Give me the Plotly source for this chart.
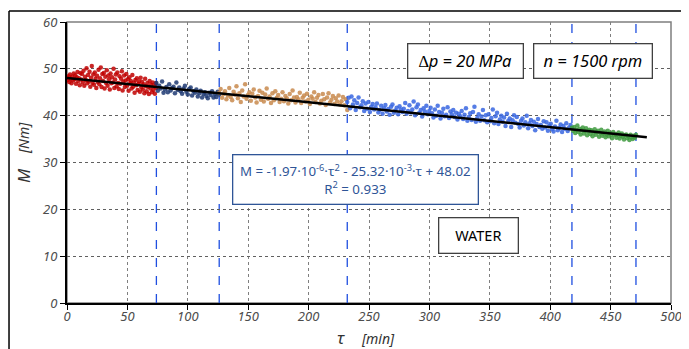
import numpy as np
import plotly.graph_objects as go

# ---------------- data ----------------
seg_bounds = [0, 74, 126, 232, 418, 471]          # tau [min] segment limits
seg_colors = ["#C00000", "#1F3A73", "#C88A4E", "#3866E0", "#3E9A3E"]

red_m = [48.1, 47.6, 48.4, 47.2, 48.8, 47.9, 46.9, 48.3, 47.5, 49.0, 47.8, 48.6, 46.8, 48.2, 49.3, 47.4, 48.0, 46.5, 49.1, 47.7,
         48.9, 47.1, 49.6, 46.4, 48.3, 47.6, 50.1, 46.9, 48.7, 47.3, 49.4, 46.2, 48.1, 50.6, 47.0, 48.8, 46.6, 49.2, 47.9, 45.9,
         48.5, 47.2, 49.8, 46.7, 48.0, 50.3, 46.1, 48.9, 47.4, 49.1, 45.8, 48.3, 47.0, 49.7, 46.4, 48.6, 47.8, 45.6, 49.0, 46.9,
         48.2, 47.1, 50.0, 45.9, 47.7, 48.8, 46.3, 49.2, 47.0, 45.7, 48.4, 46.8, 47.9, 49.5, 45.4, 47.3, 48.6, 46.1, 47.5, 48.9,
         46.4, 47.8, 45.3, 48.2, 46.9, 47.4, 45.8, 48.7, 46.2, 47.1, 44.9, 47.6, 46.5, 48.0, 45.5, 46.8, 47.3, 45.1, 48.1, 46.0,
         47.2, 45.6, 46.7, 44.8, 47.9, 46.3, 45.2, 47.0, 46.1, 44.6, 47.4, 45.8, 46.6, 45.0, 47.1, 45.5, 46.3, 44.7, 46.9, 45.9]
navy_m = [47.0, 45.3, 46.4, 45.8, 47.3, 44.9, 45.6, 46.1, 45.0, 46.7, 45.4, 45.9, 46.2, 44.8, 47.1, 45.5, 46.0, 45.2, 44.7, 45.8,
          46.4, 45.1, 44.5, 45.7, 46.0, 44.3, 45.2, 44.9, 45.6, 44.1, 44.8, 45.3, 43.9, 44.6, 45.0, 44.2, 43.7, 44.9, 44.4, 45.2,
          43.9, 44.6, 44.0, 45.1, 44.5]
brown_m = [44.9, 45.7, 43.8, 44.6, 45.2, 43.5, 44.3, 45.9, 44.0, 43.3, 45.1, 44.5, 46.3, 43.7, 44.8, 42.9, 45.4, 44.1, 46.7, 43.6,
           44.4, 45.0, 43.2, 44.7, 45.6, 43.9, 42.8, 44.2, 45.3, 43.4, 44.9, 43.0, 44.5, 45.8, 43.6, 44.1, 42.7, 44.8, 43.3, 45.2,
           43.8, 44.4, 42.9, 43.6, 45.0, 43.1, 44.2, 43.7, 42.6, 44.6, 43.3, 45.4, 43.9, 42.8, 44.0, 43.5, 44.9, 42.7, 43.8, 44.3,
           43.0, 44.7, 43.4, 42.5, 44.1, 43.6, 45.0, 42.9, 43.8, 44.4, 42.6, 43.2, 44.6, 43.5, 42.3, 43.9, 44.8, 42.8, 43.4, 44.2,
           42.5, 43.7, 43.0, 44.3, 42.4, 43.1, 44.0, 42.2, 43.5, 41.2]
blue_m = [42.9, 43.8, 41.6, 44.1, 42.4, 43.3, 41.2, 42.7, 43.9, 41.8, 42.2, 43.1, 41.0, 42.6, 41.5, 42.9, 40.8, 41.9, 42.5, 41.3,
          41.8, 42.6, 40.7, 41.2, 42.1, 40.4, 41.6, 42.3, 40.9, 41.4, 40.2, 41.9, 42.4, 40.6, 41.1, 41.7, 40.3, 42.0, 41.3, 40.8,
          41.5, 42.7, 40.4, 41.0, 42.2, 40.7, 41.3, 43.0, 40.1, 41.8, 42.4, 40.6, 41.2, 39.8, 41.6, 40.9, 42.1, 40.3, 41.0, 41.7,
          40.5, 39.6, 41.3, 40.0, 42.1, 40.8, 39.4, 40.6, 41.5, 39.9, 40.2, 41.8, 39.5, 40.9, 40.3, 41.2, 39.7, 40.6, 39.2, 40.4,
          39.9, 41.0, 39.3, 40.2, 41.6, 38.9, 39.7, 40.5, 39.1, 40.8, 41.9, 38.7, 39.5, 40.3, 38.9, 39.8, 41.2, 39.0, 40.1, 38.6,
          40.3, 38.8, 39.5, 41.3, 38.4, 39.9, 40.6, 38.2, 39.2, 40.0, 38.7, 39.6, 37.8, 40.4, 38.9, 39.4, 37.6, 39.0, 40.1, 38.5,
          39.7, 38.2, 37.5, 38.9, 39.4, 37.9, 38.6, 40.0, 37.3, 38.4, 39.1, 37.8, 38.7, 36.9, 38.2, 39.3, 37.6, 38.0, 37.2, 38.8,
          37.5, 38.6, 36.8, 37.9, 38.3, 37.1, 36.6, 37.7, 38.9, 36.9, 37.4, 38.1, 36.5, 37.8, 37.2, 38.4, 36.7, 37.5, 38.0, 37.3]
green_m = [37.4, 36.8, 37.6, 36.3, 37.0, 37.9, 36.5, 37.2, 36.0, 36.9, 37.5, 36.2, 36.7, 37.3, 35.8, 36.6, 37.0, 36.1, 36.9, 35.6,
           36.4, 37.1, 35.9, 36.5, 36.8, 35.5, 36.3, 37.0, 35.7, 36.2, 36.6, 35.4, 36.0, 36.8, 35.6, 36.3, 35.9, 35.2, 36.5, 35.8,
           36.1, 35.3, 35.9, 36.4, 35.1, 35.7, 36.2, 35.5, 34.9, 35.8, 36.0, 35.2, 35.6, 34.8, 35.9, 35.4, 35.0, 35.7, 35.3, 35.9]
segments_m = [red_m, navy_m, brown_m, blue_m, green_m]

# trend line coefficients (as printed on the chart): M = a*t^2 + b*t + c
fit_a, fit_b, fit_c = -1.97e-6, -25.32e-3, 48.02
fit_range = [0, 480]

divider_x = [74, 126, 232, 418, 471]
x_ticks = [0, 50, 100, 150, 200, 250, 300, 350, 400, 450, 500]
y_ticks = [0, 10, 20, 30, 40, 50, 60]

# ---------------- figure ----------------
fig = go.Figure()

for (t0, t1), ys, col in zip(zip(seg_bounds[:-1], seg_bounds[1:]), segments_m, seg_colors):
    xs = np.linspace(t0, t1, len(ys))
    fig.add_trace(go.Scatter(x=xs, y=ys, mode="markers",
                             marker=dict(size=4.5, color=col, opacity=0.85, line=dict(width=0)),
                             showlegend=False, hoverinfo="skip"))

tf = np.linspace(fit_range[0], fit_range[1], 200)
fig.add_trace(go.Scatter(x=tf, y=fit_a * tf**2 + fit_b * tf + fit_c, mode="lines",
                         line=dict(color="black", width=2.5), showlegend=False, hoverinfo="skip"))

shapes = []
for xv in divider_x:
    shapes.append(dict(type="line", xref="x", yref="y", x0=xv, x1=xv, y0=0, y1=60,
                       line=dict(color="#1F4FE0", width=1.3, dash="dash"), layer="below"))
shapes.append(dict(type="rect", xref="paper", yref="paper", x0=0, x1=1, y0=0, y1=1,
                   line=dict(color="#7F7F7F", width=1.5), layer="below"))
shapes.append(dict(type="line", xref="paper", yref="paper", x0=-0.096, x1=1.05, y0=1.039, y1=1.039,
                   line=dict(color="black", width=1.5)))
shapes.append(dict(type="line", xref="paper", yref="paper", x0=-0.096, x1=-0.096, y0=1.039, y1=-0.2,
                   line=dict(color="black", width=1.5)))

tickfont = dict(family="Noto Sans", size=13, color="#4D4D4D", style="italic")
box = dict(bgcolor="white", borderpad=0, borderwidth=1.3, showarrow=False, xref="x", yref="y")
title_font_big = dict(family="Noto Sans", size=17, color="#333333", style="italic")
title_font_small = dict(family="Noto Sans", size=14, color="#333333", style="italic")
ctr = dict(xanchor="center", yanchor="middle", showarrow=False, xref="paper", yref="paper")
annotations = [
    dict(x=329.6, y=51.7, text="∆p = 20 MPa", width=114, height=33, bordercolor="#404040",
         font=dict(family="Noto Sans", size=16.5, color="black", style="italic"), **box),
    dict(x=435.1, y=51.7, text="n = 1500 rpm", width=117, height=33, bordercolor="#404040",
         font=dict(family="Noto Sans", size=16.5, color="black", style="italic"), **box),
    dict(x=238.5, y=26.4,
         text="M = -1.97·10<sup>-6</sup>·τ<sup>2</sup> - 25.32·10<sup>-3</sup>·τ + 48.02<br>R<sup>2</sup> = 0.933",
         width=244, height=48, bordercolor="#2F5597",
         font=dict(family="Noto Sans", size=13.3, color="#2F5597"), **box),
    dict(x=340.3, y=14.46, text="WATER", width=78, height=34, bordercolor="#404040",
         font=dict(family="Noto Sans", size=14.5, color="black"), **box),
    # y-axis title: "M" and "[Nm]"
    dict(x=(23 - 67) / 604, y=(303 - 176) / 281, textangle=-90, text="M", font=title_font_big, **ctr),
    dict(x=(23 - 67) / 604, y=(303 - 138) / 281, textangle=-90, text="[Nm]", font=title_font_small, **ctr),
    # x-axis title: "τ" and "[min]"
    dict(x=(341 - 67) / 604, y=(303 - 337) / 281, text="τ", font=title_font_big, **ctr),
    dict(x=(378 - 67) / 604, y=(303 - 338) / 281, text="[min]", font=title_font_small, **ctr),
]

# the page body adds an 8 px offset, so margins are shifted by 8 px
fig.update_layout(
    width=689, height=349,
    margin=dict(l=59, r=26, t=14, b=54, autoexpand=False),
    paper_bgcolor="white", plot_bgcolor="white",
    shapes=shapes, annotations=annotations,
    xaxis=dict(range=[0, 500], tickvals=x_ticks, ticks="outside", ticklen=5, tickcolor="black",
               ticklabelstandoff=-5,
               showgrid=True, gridcolor="#7F7F7F", griddash="dot", gridwidth=1, automargin=False,
               showline=True, linecolor="black", linewidth=2, zeroline=False, tickfont=tickfont),
    yaxis=dict(range=[0, 60], tickvals=y_ticks, ticks="outside", ticklen=5, tickcolor="black",
               showgrid=True, gridcolor="#606060", griddash="dot", gridwidth=1, automargin=False,
               showline=True, linecolor="black", linewidth=2, zeroline=False, tickfont=tickfont),
)

fig.write_html("out.html")
